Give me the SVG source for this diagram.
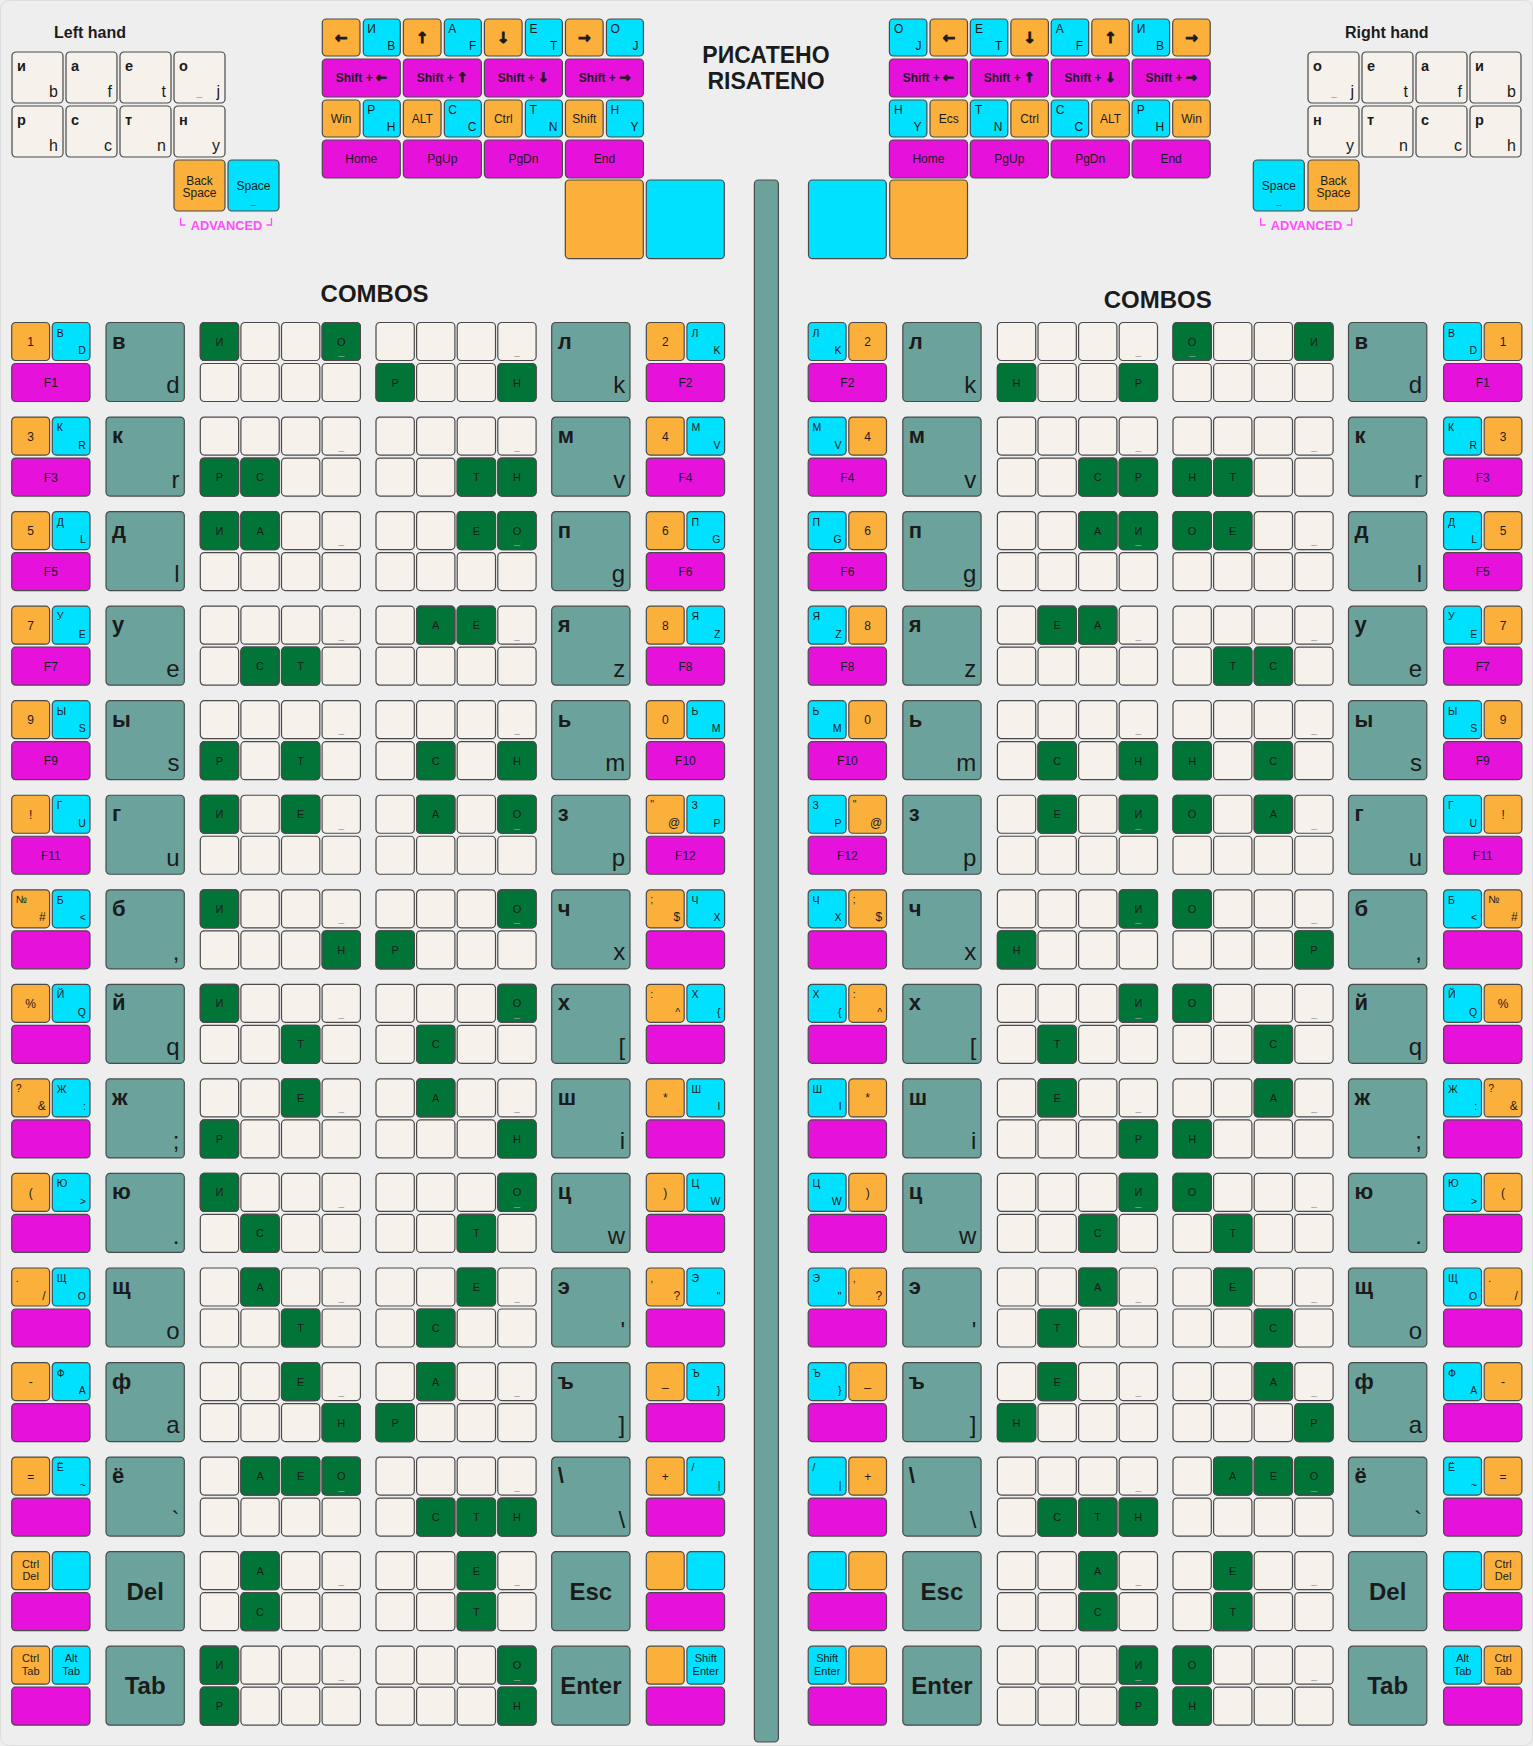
<svg xmlns="http://www.w3.org/2000/svg" width="1533" height="1746" viewBox="0 0 1533 1746">
<style>
text{font-family:'Liberation Sans',Arial,sans-serif;fill:#1b1b1b}
.k{stroke:#4a4a4a;stroke-width:1.2}
.or{fill:#fbb03b}.cy{fill:#00e1ff}.mg{fill:#e612dc}.tl{fill:#6ba39c}.gr{fill:#007537}.cr{fill:#f6f2eb}
.c{text-anchor:middle}.e{text-anchor:end}.b{font-weight:bold}
.s10{font-size:10.5px}.s11{font-size:11px}.s12{font-size:12px}
.tt{font-size:22px;font-weight:bold}
.tb{font-size:24px;text-anchor:end}
.tc{font-size:24px;font-weight:bold;text-anchor:middle}
.G text{font-size:11px;text-anchor:middle}
.us{font-size:10px;fill:#9a9a9a;text-anchor:middle}
.ar{font-family:'DejaVu Sans',sans-serif;font-weight:bold;stroke:#1b1b1b;stroke-width:0.9}
.an{font-size:15px;text-anchor:middle}
.hl{font-size:14.5px;font-weight:bold}
.hb{font-size:16px;text-anchor:end}
.adv{fill:#ff4dff;font-weight:bold;font-size:12.8px;text-anchor:middle}
.br{fill:none;stroke:#ff4dff;stroke-width:1.3}
.h1{font-size:16px;font-weight:bold;text-anchor:middle}
.ttl{font-size:23px;font-weight:bold;text-anchor:middle}
</style>
<defs>
<g id="grid">
<rect class="k cr" x="0" y="0" width="38.3" height="38" rx="4"/>
<rect class="k cr" x="40.6" y="0" width="38.3" height="38" rx="4"/>
<rect class="k cr" x="81.2" y="0" width="38.3" height="38" rx="4"/>
<rect class="k cr" x="121.8" y="0" width="38.3" height="38" rx="4"/>
<rect class="k cr" x="0" y="41" width="38.3" height="38" rx="4"/>
<rect class="k cr" x="40.6" y="41" width="38.3" height="38" rx="4"/>
<rect class="k cr" x="81.2" y="41" width="38.3" height="38" rx="4"/>
<rect class="k cr" x="121.8" y="41" width="38.3" height="38" rx="4"/>
<text class="us" x="140.95" y="32.5">_</text>
</g>
<rect id="gc" class="k gr" width="38.3" height="38" rx="4"/>
<g id="gL"><rect class="k or" width="37.9" height="38" rx="4"/><rect class="k cy" x="40.6" width="37.7" height="38" rx="4"/><rect class="k mg" y="41" width="78.3" height="38" rx="4"/></g>
<g id="gR"><rect class="k cy" width="37.9" height="38" rx="4"/><rect class="k or" x="40.6" width="37.7" height="38" rx="4"/><rect class="k mg" y="41" width="78.3" height="38" rx="4"/></g>
<rect id="tk" class="k tl" width="78.3" height="79" rx="4"/>
<g id="navL">
<rect class="k or" x="0" y="19" width="37.7" height="37" rx="4"/>
<rect class="k cy" x="41" y="19" width="37" height="37" rx="4"/>
<rect class="k mg" x="0" y="59" width="78" height="38" rx="4"/>
<rect class="k or" x="0" y="100" width="37.7" height="37" rx="4"/>
<rect class="k cy" x="41" y="100" width="37" height="37" rx="4"/>
<rect class="k mg" x="0" y="140" width="78" height="38" rx="4"/>
</g>
<g id="navR">
<rect class="k cy" x="0" y="19" width="37.5" height="37" rx="4"/>
<rect class="k or" x="40.6" y="19" width="37.5" height="37" rx="4"/>
<rect class="k mg" x="0" y="59" width="78.1" height="38" rx="4"/>
<rect class="k cy" x="0" y="100" width="37.5" height="37" rx="4"/>
<rect class="k or" x="40.6" y="100" width="37.5" height="37" rx="4"/>
<rect class="k mg" x="0" y="140" width="78.1" height="38" rx="4"/>
</g>
<rect id="hk" class="k cr" width="51" height="51" rx="4"/>
</defs>

<rect x="0" y="0" width="1533" height="1746" fill="#eeeeee"/>
<rect x="0.5" y="0.5" width="1532" height="1745" rx="8" fill="none" stroke="#dddddd"/>

<!-- Left hand -->
<g id="left-hand">
<text class="h1" x="90" y="37.5">Left hand</text>
<use href="#hk" x="12" y="52"/><text class="hl" x="17" y="71">и</text><text class="hb" x="58" y="97">b</text>
<use href="#hk" x="66" y="52"/><text class="hl" x="71" y="71">а</text><text class="hb" x="112" y="97">f</text>
<use href="#hk" x="120" y="52"/><text class="hl" x="125" y="71">е</text><text class="hb" x="166" y="97">t</text>
<use href="#hk" x="174" y="52"/><text class="hl" x="179" y="71">о</text><text class="hb" x="220" y="97">j</text><text class="us" x="199.5" y="95.5">_</text>
<use href="#hk" x="12" y="106"/><text class="hl" x="17" y="125">р</text><text class="hb" x="58" y="151">h</text>
<use href="#hk" x="66" y="106"/><text class="hl" x="71" y="125">с</text><text class="hb" x="112" y="151">c</text>
<use href="#hk" x="120" y="106"/><text class="hl" x="125" y="125">т</text><text class="hb" x="166" y="151">n</text>
<use href="#hk" x="174" y="106"/><text class="hl" x="179" y="125">н</text><text class="hb" x="220" y="151">y</text>
<rect class="k or" x="174" y="160" width="51" height="51" rx="4"/>
<text class="s12 c" x="199.5" y="184.5">Back</text><text class="s12 c" x="199.5" y="196.5">Space</text>
<rect class="k cy" x="228" y="160" width="51" height="51" rx="4"/>
<text class="s12 c" x="253.5" y="190">Space</text><text class="c" style="font-size:10px;fill:#3a6a6a" x="253.5" y="203.5">_</text>
<path class="br" d="M180.5 218V225H185.5M271.5 218V225H266.5"/>
<text class="adv" x="226.5" y="230">ADVANCED</text>
</g>

<!-- Right hand -->
<g id="right-hand">
<text class="h1" x="1386.7" y="37.5">Right hand</text>
<use href="#hk" x="1308" y="52"/><text class="hl" x="1313" y="71">о</text><text class="hb" x="1354" y="97">j</text><text class="us" x="1334" y="95.5">_</text>
<use href="#hk" x="1362" y="52"/><text class="hl" x="1367" y="71">е</text><text class="hb" x="1408" y="97">t</text>
<use href="#hk" x="1416" y="52"/><text class="hl" x="1421" y="71">а</text><text class="hb" x="1462" y="97">f</text>
<use href="#hk" x="1470" y="52"/><text class="hl" x="1475" y="71">и</text><text class="hb" x="1516" y="97">b</text>
<use href="#hk" x="1308" y="106"/><text class="hl" x="1313" y="125">н</text><text class="hb" x="1354" y="151">y</text>
<use href="#hk" x="1362" y="106"/><text class="hl" x="1367" y="125">т</text><text class="hb" x="1408" y="151">n</text>
<use href="#hk" x="1416" y="106"/><text class="hl" x="1421" y="125">с</text><text class="hb" x="1462" y="151">c</text>
<use href="#hk" x="1470" y="106"/><text class="hl" x="1475" y="125">р</text><text class="hb" x="1516" y="151">h</text>
<rect class="k cy" x="1253.3" y="160" width="51" height="51" rx="4"/>
<text class="s12 c" x="1278.8" y="190">Space</text><text class="c" style="font-size:10px;fill:#3a6a6a" x="1278.8" y="203.5">_</text>
<rect class="k or" x="1308" y="160" width="51" height="51" rx="4"/>
<text class="s12 c" x="1333.5" y="184.5">Back</text><text class="s12 c" x="1333.5" y="196.5">Space</text>
<path class="br" d="M1260.7 218V225H1265.7M1351.7 218V225H1346.7"/>
<text class="adv" x="1306.5" y="230">ADVANCED</text>
</g>

<!-- Title -->
<g id="title">
<text class="ttl" x="766" y="62.5">РИСАТЕНО</text>
<text class="ttl" x="766" y="88.5">RISATENO</text>
</g>

<!-- Left nav -->
<g id="nav-left">
<use href="#navL" x="322.3"/><use href="#navL" x="403.35"/><use href="#navL" x="484.4"/><use href="#navL" x="565.45"/>
<text class="ar an" x="341.15" y="42.5">←</text>
<text class="ar an" x="422.2" y="43">↑</text>
<text class="ar an" x="503.25" y="43">↓</text>
<text class="ar an" x="584.3" y="42.5">→</text>
<text class="s12" x="367.3" y="33">И</text><text class="s12 e" x="395.3" y="50">B</text>
<text class="s12" x="448.35" y="33">А</text><text class="s12 e" x="476.35" y="50">F</text>
<text class="s12" x="529.4" y="33">Е</text><text class="s12 e" x="557.4" y="50">T</text>
<text class="s12" x="610.45" y="33">О</text><text class="s12 e" x="638.45" y="50">J</text>
<text class="s12 b c" x="361.3" y="82">Shift + <tspan class="ar" style="font-size:13px">←</tspan></text>
<text class="s12 b c" x="442.35" y="82">Shift + <tspan class="ar" style="font-size:13px">↑</tspan></text>
<text class="s12 b c" x="523.4" y="82">Shift + <tspan class="ar" style="font-size:13px">↓</tspan></text>
<text class="s12 b c" x="604.45" y="82">Shift + <tspan class="ar" style="font-size:13px">→</tspan></text>
<text class="s12 c" x="341.15" y="122.5">Win</text>
<text class="s12 c" x="422.2" y="122.5">ALT</text>
<text class="s12 c" x="503.25" y="122.5">Ctrl</text>
<text class="s12 c" x="584.3" y="122.5">Shift</text>
<text class="s12" x="367.3" y="113.5">Р</text><text class="s12 e" x="395.3" y="131">H</text>
<text class="s12" x="448.35" y="113.5">С</text><text class="s12 e" x="476.35" y="131">C</text>
<text class="s12" x="529.4" y="113.5">Т</text><text class="s12 e" x="557.4" y="131">N</text>
<text class="s12" x="610.45" y="113.5">Н</text><text class="s12 e" x="638.45" y="131">Y</text>
<text class="s12 c" x="361.3" y="162.5">Home</text>
<text class="s12 c" x="442.35" y="162.5">PgUp</text>
<text class="s12 c" x="523.4" y="162.5">PgDn</text>
<text class="s12 c" x="604.45" y="162.5">End</text>
<rect class="k or" x="565.3" y="180" width="78" height="78.7" rx="4"/>
<rect class="k cy" x="646.3" y="180" width="78" height="78.7" rx="4"/>
</g>

<!-- Right nav -->
<g id="nav-right">
<use href="#navR" x="889.4"/><use href="#navR" x="970.3"/><use href="#navR" x="1051.2"/><use href="#navR" x="1132.1"/>
<text class="s12" x="894" y="33">О</text><text class="s12 e" x="921.4" y="50">J</text>
<text class="s12" x="974.9" y="33">Е</text><text class="s12 e" x="1002.3" y="50">T</text>
<text class="s12" x="1055.8" y="33">А</text><text class="s12 e" x="1083.2" y="50">F</text>
<text class="s12" x="1136.7" y="33">И</text><text class="s12 e" x="1164.1" y="50">B</text>
<text class="ar an" x="948.8" y="42.5">←</text>
<text class="ar an" x="1029.7" y="43">↓</text>
<text class="ar an" x="1110.6" y="43">↑</text>
<text class="ar an" x="1191.5" y="42.5">→</text>
<text class="s12 b c" x="928.4" y="82">Shift + <tspan class="ar" style="font-size:13px">←</tspan></text>
<text class="s12 b c" x="1009.3" y="82">Shift + <tspan class="ar" style="font-size:13px">↑</tspan></text>
<text class="s12 b c" x="1090.2" y="82">Shift + <tspan class="ar" style="font-size:13px">↓</tspan></text>
<text class="s12 b c" x="1171.1" y="82">Shift + <tspan class="ar" style="font-size:13px">→</tspan></text>
<text class="s12" x="894" y="113.5">Н</text><text class="s12 e" x="921.4" y="131">Y</text>
<text class="s12" x="974.9" y="113.5">Т</text><text class="s12 e" x="1002.3" y="131">N</text>
<text class="s12" x="1055.8" y="113.5">С</text><text class="s12 e" x="1083.2" y="131">C</text>
<text class="s12" x="1136.7" y="113.5">Р</text><text class="s12 e" x="1164.1" y="131">H</text>
<text class="s12 c" x="948.8" y="122.5">Ecs</text>
<text class="s12 c" x="1029.7" y="122.5">Ctrl</text>
<text class="s12 c" x="1110.6" y="122.5">ALT</text>
<text class="s12 c" x="1191.5" y="122.5">Win</text>
<text class="s12 c" x="928.4" y="162.5">Home</text>
<text class="s12 c" x="1009.3" y="162.5">PgUp</text>
<text class="s12 c" x="1090.2" y="162.5">PgDn</text>
<text class="s12 c" x="1171.1" y="162.5">End</text>
<rect class="k cy" x="808.5" y="180" width="77.8" height="78.7" rx="4"/>
<rect class="k or" x="889.7" y="180" width="77.8" height="78.7" rx="4"/>
</g>

<rect id="divider" class="k tl" x="754.4" y="180" width="24" height="1562" rx="4"/>

<text class="tc" x="374.6" y="302">COMBOS</text>
<text class="tc" x="1157.7" y="308">COMBOS</text>

<!-- ============ LEFT COMBOS ============ -->
<g id="combo-L1" transform="translate(0,322.5)">
<use href="#gL" x="11.7"/><text class="s12 c" x="30.65" y="23.5">1</text><text class="s10" x="56.8" y="14">В</text><text class="s10 e" x="85.8" y="31.5">D</text><text class="s12 c" x="50.85" y="64.5">F1</text>
<use href="#tk" x="106"/><text class="tt" x="112" y="26">в</text><text class="tb" x="179.5" y="70.5">d</text>
<g class="G" transform="translate(200.3,0)"><use href="#grid"/><use href="#gc"/><text x="19.15" y="23">И</text><use href="#gc" x="121.8"/><text x="140.95" y="23">О</text><text class="us" x="140.95" y="32.5">_</text></g>
<g class="G" transform="translate(376,0)"><use href="#grid"/><use href="#gc" y="41"/><text x="19.15" y="64">Р</text><use href="#gc" x="121.8" y="41"/><text x="140.95" y="64">Н</text></g>
<use href="#tk" x="551.7"/><text class="tt" x="557.7" y="26">л</text><text class="tb" x="625.2" y="70.5">k</text>
<use href="#gL" x="646.3"/><text class="s12 c" x="665.25" y="23.5">2</text><text class="s10" x="691.4" y="14">Л</text><text class="s10 e" x="720.4" y="31.5">K</text><text class="s12 c" x="685.45" y="64.5">F2</text>
</g>

<g id="combo-L2" transform="translate(0,417.05)">
<use href="#gL" x="11.7"/><text class="s12 c" x="30.65" y="23.5">3</text><text class="s10" x="56.8" y="14">К</text><text class="s10 e" x="85.8" y="31.5">R</text><text class="s12 c" x="50.85" y="64.5">F3</text>
<use href="#tk" x="106"/><text class="tt" x="112" y="26">к</text><text class="tb" x="179.5" y="70.5">r</text>
<g class="G" transform="translate(200.3,0)"><use href="#grid"/><use href="#gc" y="41"/><text x="19.15" y="64">Р</text><use href="#gc" x="40.6" y="41"/><text x="59.75" y="64">С</text></g>
<g class="G" transform="translate(376,0)"><use href="#grid"/><use href="#gc" x="81.2" y="41"/><text x="100.35" y="64">Т</text><use href="#gc" x="121.8" y="41"/><text x="140.95" y="64">Н</text></g>
<use href="#tk" x="551.7"/><text class="tt" x="557.7" y="26">м</text><text class="tb" x="625.2" y="70.5">v</text>
<use href="#gL" x="646.3"/><text class="s12 c" x="665.25" y="23.5">4</text><text class="s10" x="691.4" y="14">М</text><text class="s10 e" x="720.4" y="31.5">V</text><text class="s12 c" x="685.45" y="64.5">F4</text>
</g>

<g id="combo-L3" transform="translate(0,511.6)">
<use href="#gL" x="11.7"/><text class="s12 c" x="30.65" y="23.5">5</text><text class="s10" x="56.8" y="14">Д</text><text class="s10 e" x="85.8" y="31.5">L</text><text class="s12 c" x="50.85" y="64.5">F5</text>
<use href="#tk" x="106"/><text class="tt" x="112" y="26">д</text><text class="tb" x="179.5" y="70.5">l</text>
<g class="G" transform="translate(200.3,0)"><use href="#grid"/><use href="#gc"/><text x="19.15" y="23">И</text><use href="#gc" x="40.6"/><text x="59.75" y="23">А</text></g>
<g class="G" transform="translate(376,0)"><use href="#grid"/><use href="#gc" x="81.2"/><text x="100.35" y="23">Е</text><use href="#gc" x="121.8"/><text x="140.95" y="23">О</text><text class="us" x="140.95" y="32.5">_</text></g>
<use href="#tk" x="551.7"/><text class="tt" x="557.7" y="26">п</text><text class="tb" x="625.2" y="70.5">g</text>
<use href="#gL" x="646.3"/><text class="s12 c" x="665.25" y="23.5">6</text><text class="s10" x="691.4" y="14">П</text><text class="s10 e" x="720.4" y="31.5">G</text><text class="s12 c" x="685.45" y="64.5">F6</text>
</g>

<g id="combo-L4" transform="translate(0,606.15)">
<use href="#gL" x="11.7"/><text class="s12 c" x="30.65" y="23.5">7</text><text class="s10" x="56.8" y="14">У</text><text class="s10 e" x="85.8" y="31.5">E</text><text class="s12 c" x="50.85" y="64.5">F7</text>
<use href="#tk" x="106"/><text class="tt" x="112" y="26">у</text><text class="tb" x="179.5" y="70.5">e</text>
<g class="G" transform="translate(200.3,0)"><use href="#grid"/><use href="#gc" x="40.6" y="41"/><text x="59.75" y="64">С</text><use href="#gc" x="81.2" y="41"/><text x="100.35" y="64">Т</text></g>
<g class="G" transform="translate(376,0)"><use href="#grid"/><use href="#gc" x="40.6"/><text x="59.75" y="23">А</text><use href="#gc" x="81.2"/><text x="100.35" y="23">Е</text></g>
<use href="#tk" x="551.7"/><text class="tt" x="557.7" y="26">я</text><text class="tb" x="625.2" y="70.5">z</text>
<use href="#gL" x="646.3"/><text class="s12 c" x="665.25" y="23.5">8</text><text class="s10" x="691.4" y="14">Я</text><text class="s10 e" x="720.4" y="31.5">Z</text><text class="s12 c" x="685.45" y="64.5">F8</text>
</g>

<g id="combo-L5" transform="translate(0,700.7)">
<use href="#gL" x="11.7"/><text class="s12 c" x="30.65" y="23.5">9</text><text class="s10" x="56.8" y="14">Ы</text><text class="s10 e" x="85.8" y="31.5">S</text><text class="s12 c" x="50.85" y="64.5">F9</text>
<use href="#tk" x="106"/><text class="tt" x="112" y="26">ы</text><text class="tb" x="179.5" y="70.5">s</text>
<g class="G" transform="translate(200.3,0)"><use href="#grid"/><use href="#gc" y="41"/><text x="19.15" y="64">Р</text><use href="#gc" x="81.2" y="41"/><text x="100.35" y="64">Т</text></g>
<g class="G" transform="translate(376,0)"><use href="#grid"/><use href="#gc" x="40.6" y="41"/><text x="59.75" y="64">С</text><use href="#gc" x="121.8" y="41"/><text x="140.95" y="64">Н</text></g>
<use href="#tk" x="551.7"/><text class="tt" x="557.7" y="26">ь</text><text class="tb" x="625.2" y="70.5">m</text>
<use href="#gL" x="646.3"/><text class="s12 c" x="665.25" y="23.5">0</text><text class="s10" x="691.4" y="14">Ь</text><text class="s10 e" x="720.4" y="31.5">M</text><text class="s12 c" x="685.45" y="64.5">F10</text>
</g>

<g id="combo-L6" transform="translate(0,795.25)">
<use href="#gL" x="11.7"/><text class="s12 c" x="30.65" y="23.5">!</text><text class="s10" x="56.8" y="14">Г</text><text class="s10 e" x="85.8" y="31.5">U</text><text class="s12 c" x="50.85" y="64.5">F11</text>
<use href="#tk" x="106"/><text class="tt" x="112" y="26">г</text><text class="tb" x="179.5" y="70.5">u</text>
<g class="G" transform="translate(200.3,0)"><use href="#grid"/><use href="#gc"/><text x="19.15" y="23">И</text><use href="#gc" x="81.2"/><text x="100.35" y="23">Е</text></g>
<g class="G" transform="translate(376,0)"><use href="#grid"/><use href="#gc" x="40.6"/><text x="59.75" y="23">А</text><use href="#gc" x="121.8"/><text x="140.95" y="23">О</text><text class="us" x="140.95" y="32.5">_</text></g>
<use href="#tk" x="551.7"/><text class="tt" x="557.7" y="26">з</text><text class="tb" x="625.2" y="70.5">p</text>
<use href="#gL" x="646.3"/><text class="s10" x="650.3" y="13">"</text><text class="s12 e" x="680.3" y="32">@</text><text class="s10" x="691.4" y="14">З</text><text class="s10 e" x="720.4" y="31.5">P</text><text class="s12 c" x="685.45" y="64.5">F12</text>
</g>

<g id="combo-L7" transform="translate(0,889.8)">
<use href="#gL" x="11.7"/><text class="s10" x="15.7" y="13.5">№</text><text class="s12 e" x="45.7" y="31.5">#</text><text class="s10" x="56.8" y="14">Б</text><text class="s10 e" x="85.8" y="31.5">&lt;</text>
<use href="#tk" x="106"/><text class="tt" x="112" y="26">б</text><text class="tb" x="179.5" y="70.5">,</text>
<g class="G" transform="translate(200.3,0)"><use href="#grid"/><use href="#gc"/><text x="19.15" y="23">И</text><use href="#gc" x="121.8" y="41"/><text x="140.95" y="64">Н</text></g>
<g class="G" transform="translate(376,0)"><use href="#grid"/><use href="#gc" x="121.8"/><text x="140.95" y="23">О</text><text class="us" x="140.95" y="32.5">_</text><use href="#gc" y="41"/><text x="19.15" y="64">Р</text></g>
<use href="#tk" x="551.7"/><text class="tt" x="557.7" y="26">ч</text><text class="tb" x="625.2" y="70.5">x</text>
<use href="#gL" x="646.3"/><text class="s10" x="650.3" y="13.5">;</text><text class="s12 e" x="680.3" y="31.5">$</text><text class="s10" x="691.4" y="14">Ч</text><text class="s10 e" x="720.4" y="31.5">X</text>
</g>

<g id="combo-L8" transform="translate(0,984.35)">
<use href="#gL" x="11.7"/><text class="s12 c" x="30.65" y="23.5">%</text><text class="s10" x="56.8" y="14">Й</text><text class="s10 e" x="85.8" y="31.5">Q</text>
<use href="#tk" x="106"/><text class="tt" x="112" y="26">й</text><text class="tb" x="179.5" y="70.5">q</text>
<g class="G" transform="translate(200.3,0)"><use href="#grid"/><use href="#gc"/><text x="19.15" y="23">И</text><use href="#gc" x="81.2" y="41"/><text x="100.35" y="64">Т</text></g>
<g class="G" transform="translate(376,0)"><use href="#grid"/><use href="#gc" x="121.8"/><text x="140.95" y="23">О</text><text class="us" x="140.95" y="32.5">_</text><use href="#gc" x="40.6" y="41"/><text x="59.75" y="64">С</text></g>
<use href="#tk" x="551.7"/><text class="tt" x="557.7" y="26">х</text><text class="tb" x="625.2" y="70.5">[</text>
<use href="#gL" x="646.3"/><text class="s10" x="650.3" y="13.5">:</text><text class="s10 e" x="680.3" y="31.5">^</text><text class="s10" x="691.4" y="14">Х</text><text class="s10 e" x="720.4" y="31.5">{</text>
</g>

<g id="combo-L9" transform="translate(0,1078.9)">
<use href="#gL" x="11.7"/><text class="s10" x="15.7" y="13.5">?</text><text class="s12 e" x="45.7" y="31.5">&amp;</text><text class="s10" x="56.8" y="14">Ж</text><text class="s10 e" x="85.8" y="31.5">:</text>
<use href="#tk" x="106"/><text class="tt" x="112" y="26">ж</text><text class="tb" x="179.5" y="70.5">;</text>
<g class="G" transform="translate(200.3,0)"><use href="#grid"/><use href="#gc" x="81.2"/><text x="100.35" y="23">Е</text><use href="#gc" y="41"/><text x="19.15" y="64">Р</text></g>
<g class="G" transform="translate(376,0)"><use href="#grid"/><use href="#gc" x="40.6"/><text x="59.75" y="23">А</text><use href="#gc" x="121.8" y="41"/><text x="140.95" y="64">Н</text></g>
<use href="#tk" x="551.7"/><text class="tt" x="557.7" y="26">ш</text><text class="tb" x="625.2" y="70.5">i</text>
<use href="#gL" x="646.3"/><text class="s12 c" x="665.25" y="23.5">*</text><text class="s10" x="691.4" y="14">Ш</text><text class="s10 e" x="720.4" y="31.5">I</text>
</g>

<g id="combo-L10" transform="translate(0,1173.45)">
<use href="#gL" x="11.7"/><text class="s12 c" x="30.65" y="23.5">(</text><text class="s10" x="56.8" y="14">Ю</text><text class="s10 e" x="85.8" y="31.5">&gt;</text>
<use href="#tk" x="106"/><text class="tt" x="112" y="26">ю</text><text class="tb" x="179.5" y="70.5">.</text>
<g class="G" transform="translate(200.3,0)"><use href="#grid"/><use href="#gc"/><text x="19.15" y="23">И</text><use href="#gc" x="40.6" y="41"/><text x="59.75" y="64">С</text></g>
<g class="G" transform="translate(376,0)"><use href="#grid"/><use href="#gc" x="121.8"/><text x="140.95" y="23">О</text><text class="us" x="140.95" y="32.5">_</text><use href="#gc" x="81.2" y="41"/><text x="100.35" y="64">Т</text></g>
<use href="#tk" x="551.7"/><text class="tt" x="557.7" y="26">ц</text><text class="tb" x="625.2" y="70.5">w</text>
<use href="#gL" x="646.3"/><text class="s12 c" x="665.25" y="23.5">)</text><text class="s10" x="691.4" y="14">Ц</text><text class="s10 e" x="720.4" y="31.5">W</text>
</g>

<g id="combo-L11" transform="translate(0,1268)">
<use href="#gL" x="11.7"/><text class="s10" x="15.7" y="13.5">.</text><text class="s12 e" x="45.7" y="31.5">/</text><text class="s10" x="56.8" y="14">Щ</text><text class="s10 e" x="85.8" y="31.5">O</text>
<use href="#tk" x="106"/><text class="tt" x="112" y="26">щ</text><text class="tb" x="179.5" y="70.5">o</text>
<g class="G" transform="translate(200.3,0)"><use href="#grid"/><use href="#gc" x="40.6"/><text x="59.75" y="23">А</text><use href="#gc" x="81.2" y="41"/><text x="100.35" y="64">Т</text></g>
<g class="G" transform="translate(376,0)"><use href="#grid"/><use href="#gc" x="81.2"/><text x="100.35" y="23">Е</text><use href="#gc" x="40.6" y="41"/><text x="59.75" y="64">С</text></g>
<use href="#tk" x="551.7"/><text class="tt" x="557.7" y="26">э</text><text class="tb" x="625.2" y="70.5">'</text>
<use href="#gL" x="646.3"/><text class="s10" x="650.3" y="13.5">,</text><text class="s12 e" x="680.3" y="31.5">?</text><text class="s10" x="691.4" y="14">Э</text><text class="s10 e" x="720.4" y="31.5">"</text>
</g>

<g id="combo-L12" transform="translate(0,1362.55)">
<use href="#gL" x="11.7"/><text class="s12 c" x="30.65" y="23.5">-</text><text class="s10" x="56.8" y="14">Ф</text><text class="s10 e" x="85.8" y="31.5">A</text>
<use href="#tk" x="106"/><text class="tt" x="112" y="26">ф</text><text class="tb" x="179.5" y="70.5">a</text>
<g class="G" transform="translate(200.3,0)"><use href="#grid"/><use href="#gc" x="81.2"/><text x="100.35" y="23">Е</text><use href="#gc" x="121.8" y="41"/><text x="140.95" y="64">Н</text></g>
<g class="G" transform="translate(376,0)"><use href="#grid"/><use href="#gc" x="40.6"/><text x="59.75" y="23">А</text><use href="#gc" y="41"/><text x="19.15" y="64">Р</text></g>
<use href="#tk" x="551.7"/><text class="tt" x="557.7" y="26">ъ</text><text class="tb" x="625.2" y="70.5">]</text>
<use href="#gL" x="646.3"/><text class="s12 c" x="665.25" y="23.5">_</text><text class="s10" x="691.4" y="14">Ъ</text><text class="s10 e" x="720.4" y="31.5">}</text>
</g>

<g id="combo-L13" transform="translate(0,1457.1)">
<use href="#gL" x="11.7"/><text class="s12 c" x="30.65" y="23.5">=</text><text class="s10" x="56.8" y="14">Ё</text><text class="s10 e" x="85.8" y="31.5">~</text>
<use href="#tk" x="106"/><text class="tt" x="112" y="26">ё</text><text class="tb" x="179.5" y="70.5">`</text>
<g class="G" transform="translate(200.3,0)"><use href="#grid"/><use href="#gc" x="40.6"/><text x="59.75" y="23">А</text><use href="#gc" x="81.2"/><text x="100.35" y="23">Е</text><use href="#gc" x="121.8"/><text x="140.95" y="23">О</text><text class="us" x="140.95" y="32.5">_</text></g>
<g class="G" transform="translate(376,0)"><use href="#grid"/><use href="#gc" x="40.6" y="41"/><text x="59.75" y="64">С</text><use href="#gc" x="81.2" y="41"/><text x="100.35" y="64">Т</text><use href="#gc" x="121.8" y="41"/><text x="140.95" y="64">Н</text></g>
<use href="#tk" x="551.7"/><text class="tt" x="557.7" y="26">\</text><text class="tb" x="625.2" y="70.5">\</text>
<use href="#gL" x="646.3"/><text class="s12 c" x="665.25" y="23.5">+</text><text class="s10" x="691.4" y="14">/</text><text class="s10 e" x="720.4" y="31.5">|</text>
</g>

<g id="combo-L14" transform="translate(0,1551.65)">
<use href="#gL" x="11.7"/><text class="s11 c" x="30.65" y="16">Ctrl</text><text class="s11 c" x="30.65" y="28.5">Del</text>
<use href="#tk" x="106"/><text class="tc" x="145.15" y="48">Del</text>
<g class="G" transform="translate(200.3,0)"><use href="#grid"/><use href="#gc" x="40.6"/><text x="59.75" y="23">А</text><use href="#gc" x="40.6" y="41"/><text x="59.75" y="64">С</text></g>
<g class="G" transform="translate(376,0)"><use href="#grid"/><use href="#gc" x="81.2"/><text x="100.35" y="23">Е</text><use href="#gc" x="81.2" y="41"/><text x="100.35" y="64">Т</text></g>
<use href="#tk" x="551.7"/><text class="tc" x="590.85" y="48">Esc</text>
<use href="#gL" x="646.3"/>
</g>

<g id="combo-L15" transform="translate(0,1646.2)">
<use href="#gL" x="11.7"/><text class="s11 c" x="30.65" y="16">Ctrl</text><text class="s11 c" x="30.65" y="28.5">Tab</text><text class="s11 c" x="71.15" y="16">Alt</text><text class="s11 c" x="71.15" y="28.5">Tab</text>
<use href="#tk" x="106"/><text class="tc" x="145.15" y="48">Tab</text>
<g class="G" transform="translate(200.3,0)"><use href="#grid"/><use href="#gc"/><text x="19.15" y="23">И</text><use href="#gc" y="41"/><text x="19.15" y="64">Р</text></g>
<g class="G" transform="translate(376,0)"><use href="#grid"/><use href="#gc" x="121.8"/><text x="140.95" y="23">О</text><text class="us" x="140.95" y="32.5">_</text><use href="#gc" x="121.8" y="41"/><text x="140.95" y="64">Н</text></g>
<use href="#tk" x="551.7"/><text class="tc" x="590.85" y="48">Enter</text>
<use href="#gL" x="646.3"/><text class="s11 c" x="705.75" y="16">Shift</text><text class="s11 c" x="705.75" y="28.5">Enter</text>
</g>

<!-- ============ RIGHT COMBOS ============ -->
<g id="combo-R1" transform="translate(0,322.5)">
<use href="#gR" x="808.2"/><text class="s10" x="812.5" y="14">Л</text><text class="s10 e" x="841.6" y="31.5">K</text><text class="s12 c" x="867.7" y="23.5">2</text><text class="s12 c" x="847.35" y="64.5">F2</text>
<use href="#tk" x="902.8"/><text class="tt" x="908.8" y="26">л</text><text class="tb" x="976.3" y="70.5">k</text>
<g class="G" transform="translate(997.4,0)"><use href="#grid"/><use href="#gc" y="41"/><text x="19.15" y="64">Н</text><use href="#gc" x="121.8" y="41"/><text x="140.95" y="64">Р</text></g>
<g class="G" transform="translate(1173,0)"><use href="#grid"/><use href="#gc"/><text x="19.15" y="23">О</text><text class="us" x="19.15" y="32.5">_</text><use href="#gc" x="121.8"/><text x="140.95" y="23">И</text></g>
<use href="#tk" x="1348.5"/><text class="tt" x="1354.5" y="26">в</text><text class="tb" x="1422" y="70.5">d</text>
<use href="#gR" x="1443.6"/><text class="s10" x="1448.1" y="14">В</text><text class="s10 e" x="1477.2" y="31.5">D</text><text class="s12 c" x="1503.1" y="23.5">1</text><text class="s12 c" x="1482.75" y="64.5">F1</text>
</g>

<g id="combo-R2" transform="translate(0,417.05)">
<use href="#gR" x="808.2"/><text class="s10" x="812.5" y="14">М</text><text class="s10 e" x="841.6" y="31.5">V</text><text class="s12 c" x="867.7" y="23.5">4</text><text class="s12 c" x="847.35" y="64.5">F4</text>
<use href="#tk" x="902.8"/><text class="tt" x="908.8" y="26">м</text><text class="tb" x="976.3" y="70.5">v</text>
<g class="G" transform="translate(997.4,0)"><use href="#grid"/><use href="#gc" x="81.2" y="41"/><text x="100.35" y="64">С</text><use href="#gc" x="121.8" y="41"/><text x="140.95" y="64">Р</text></g>
<g class="G" transform="translate(1173,0)"><use href="#grid"/><use href="#gc" y="41"/><text x="19.15" y="64">Н</text><use href="#gc" x="40.6" y="41"/><text x="59.75" y="64">Т</text></g>
<use href="#tk" x="1348.5"/><text class="tt" x="1354.5" y="26">к</text><text class="tb" x="1422" y="70.5">r</text>
<use href="#gR" x="1443.6"/><text class="s10" x="1448.1" y="14">К</text><text class="s10 e" x="1477.2" y="31.5">R</text><text class="s12 c" x="1503.1" y="23.5">3</text><text class="s12 c" x="1482.75" y="64.5">F3</text>
</g>

<g id="combo-R3" transform="translate(0,511.6)">
<use href="#gR" x="808.2"/><text class="s10" x="812.5" y="14">П</text><text class="s10 e" x="841.6" y="31.5">G</text><text class="s12 c" x="867.7" y="23.5">6</text><text class="s12 c" x="847.35" y="64.5">F6</text>
<use href="#tk" x="902.8"/><text class="tt" x="908.8" y="26">п</text><text class="tb" x="976.3" y="70.5">g</text>
<g class="G" transform="translate(997.4,0)"><use href="#grid"/><use href="#gc" x="81.2"/><text x="100.35" y="23">А</text><use href="#gc" x="121.8"/><text x="140.95" y="23">И</text><text class="us" x="140.95" y="32.5">_</text></g>
<g class="G" transform="translate(1173,0)"><use href="#grid"/><use href="#gc"/><text x="19.15" y="23">О</text><use href="#gc" x="40.6"/><text x="59.75" y="23">Е</text></g>
<use href="#tk" x="1348.5"/><text class="tt" x="1354.5" y="26">д</text><text class="tb" x="1422" y="70.5">l</text>
<use href="#gR" x="1443.6"/><text class="s10" x="1448.1" y="14">Д</text><text class="s10 e" x="1477.2" y="31.5">L</text><text class="s12 c" x="1503.1" y="23.5">5</text><text class="s12 c" x="1482.75" y="64.5">F5</text>
</g>

<g id="combo-R4" transform="translate(0,606.15)">
<use href="#gR" x="808.2"/><text class="s10" x="812.5" y="14">Я</text><text class="s10 e" x="841.6" y="31.5">Z</text><text class="s12 c" x="867.7" y="23.5">8</text><text class="s12 c" x="847.35" y="64.5">F8</text>
<use href="#tk" x="902.8"/><text class="tt" x="908.8" y="26">я</text><text class="tb" x="976.3" y="70.5">z</text>
<g class="G" transform="translate(997.4,0)"><use href="#grid"/><use href="#gc" x="40.6"/><text x="59.75" y="23">Е</text><use href="#gc" x="81.2"/><text x="100.35" y="23">А</text></g>
<g class="G" transform="translate(1173,0)"><use href="#grid"/><use href="#gc" x="40.6" y="41"/><text x="59.75" y="64">Т</text><use href="#gc" x="81.2" y="41"/><text x="100.35" y="64">С</text></g>
<use href="#tk" x="1348.5"/><text class="tt" x="1354.5" y="26">у</text><text class="tb" x="1422" y="70.5">e</text>
<use href="#gR" x="1443.6"/><text class="s10" x="1448.1" y="14">У</text><text class="s10 e" x="1477.2" y="31.5">E</text><text class="s12 c" x="1503.1" y="23.5">7</text><text class="s12 c" x="1482.75" y="64.5">F7</text>
</g>

<g id="combo-R5" transform="translate(0,700.7)">
<use href="#gR" x="808.2"/><text class="s10" x="812.5" y="14">Ь</text><text class="s10 e" x="841.6" y="31.5">M</text><text class="s12 c" x="867.7" y="23.5">0</text><text class="s12 c" x="847.35" y="64.5">F10</text>
<use href="#tk" x="902.8"/><text class="tt" x="908.8" y="26">ь</text><text class="tb" x="976.3" y="70.5">m</text>
<g class="G" transform="translate(997.4,0)"><use href="#grid"/><use href="#gc" x="40.6" y="41"/><text x="59.75" y="64">С</text><use href="#gc" x="121.8" y="41"/><text x="140.95" y="64">Н</text></g>
<g class="G" transform="translate(1173,0)"><use href="#grid"/><use href="#gc" y="41"/><text x="19.15" y="64">Н</text><use href="#gc" x="81.2" y="41"/><text x="100.35" y="64">С</text></g>
<use href="#tk" x="1348.5"/><text class="tt" x="1354.5" y="26">ы</text><text class="tb" x="1422" y="70.5">s</text>
<use href="#gR" x="1443.6"/><text class="s10" x="1448.1" y="14">Ы</text><text class="s10 e" x="1477.2" y="31.5">S</text><text class="s12 c" x="1503.1" y="23.5">9</text><text class="s12 c" x="1482.75" y="64.5">F9</text>
</g>

<g id="combo-R6" transform="translate(0,795.25)">
<use href="#gR" x="808.2"/><text class="s10" x="812.5" y="14">З</text><text class="s10 e" x="841.6" y="31.5">P</text><text class="s10" x="852.8" y="13">"</text><text class="s12 e" x="882.3" y="32">@</text><text class="s12 c" x="847.35" y="64.5">F12</text>
<use href="#tk" x="902.8"/><text class="tt" x="908.8" y="26">з</text><text class="tb" x="976.3" y="70.5">p</text>
<g class="G" transform="translate(997.4,0)"><use href="#grid"/><use href="#gc" x="40.6"/><text x="59.75" y="23">Е</text><use href="#gc" x="121.8"/><text x="140.95" y="23">И</text><text class="us" x="140.95" y="32.5">_</text></g>
<g class="G" transform="translate(1173,0)"><use href="#grid"/><use href="#gc"/><text x="19.15" y="23">О</text><use href="#gc" x="81.2"/><text x="100.35" y="23">А</text></g>
<use href="#tk" x="1348.5"/><text class="tt" x="1354.5" y="26">г</text><text class="tb" x="1422" y="70.5">u</text>
<use href="#gR" x="1443.6"/><text class="s10" x="1448.1" y="14">Г</text><text class="s10 e" x="1477.2" y="31.5">U</text><text class="s12 c" x="1503.1" y="23.5">!</text><text class="s12 c" x="1482.75" y="64.5">F11</text>
</g>

<g id="combo-R7" transform="translate(0,889.8)">
<use href="#gR" x="808.2"/><text class="s10" x="812.5" y="14">Ч</text><text class="s10 e" x="841.6" y="31.5">X</text><text class="s10" x="852.8" y="13.5">;</text><text class="s12 e" x="882.3" y="31.5">$</text>
<use href="#tk" x="902.8"/><text class="tt" x="908.8" y="26">ч</text><text class="tb" x="976.3" y="70.5">x</text>
<g class="G" transform="translate(997.4,0)"><use href="#grid"/><use href="#gc" x="121.8"/><text x="140.95" y="23">И</text><text class="us" x="140.95" y="32.5">_</text><use href="#gc" y="41"/><text x="19.15" y="64">Н</text></g>
<g class="G" transform="translate(1173,0)"><use href="#grid"/><use href="#gc"/><text x="19.15" y="23">О</text><use href="#gc" x="121.8" y="41"/><text x="140.95" y="64">Р</text></g>
<use href="#tk" x="1348.5"/><text class="tt" x="1354.5" y="26">б</text><text class="tb" x="1422" y="70.5">,</text>
<use href="#gR" x="1443.6"/><text class="s10" x="1448.1" y="14">Б</text><text class="s10 e" x="1477.2" y="31.5">&lt;</text><text class="s10" x="1488.2" y="13.5">№</text><text class="s12 e" x="1517.8" y="31.5">#</text>
</g>

<g id="combo-R8" transform="translate(0,984.35)">
<use href="#gR" x="808.2"/><text class="s10" x="812.5" y="14">Х</text><text class="s10 e" x="841.6" y="31.5">{</text><text class="s10" x="852.8" y="13.5">:</text><text class="s10 e" x="882.3" y="31.5">^</text>
<use href="#tk" x="902.8"/><text class="tt" x="908.8" y="26">х</text><text class="tb" x="976.3" y="70.5">[</text>
<g class="G" transform="translate(997.4,0)"><use href="#grid"/><use href="#gc" x="121.8"/><text x="140.95" y="23">И</text><text class="us" x="140.95" y="32.5">_</text><use href="#gc" x="40.6" y="41"/><text x="59.75" y="64">Т</text></g>
<g class="G" transform="translate(1173,0)"><use href="#grid"/><use href="#gc"/><text x="19.15" y="23">О</text><use href="#gc" x="81.2" y="41"/><text x="100.35" y="64">С</text></g>
<use href="#tk" x="1348.5"/><text class="tt" x="1354.5" y="26">й</text><text class="tb" x="1422" y="70.5">q</text>
<use href="#gR" x="1443.6"/><text class="s10" x="1448.1" y="14">Й</text><text class="s10 e" x="1477.2" y="31.5">Q</text><text class="s12 c" x="1503.1" y="23.5">%</text>
</g>

<g id="combo-R9" transform="translate(0,1078.9)">
<use href="#gR" x="808.2"/><text class="s10" x="812.5" y="14">Ш</text><text class="s10 e" x="841.6" y="31.5">I</text><text class="s12 c" x="867.7" y="23.5">*</text>
<use href="#tk" x="902.8"/><text class="tt" x="908.8" y="26">ш</text><text class="tb" x="976.3" y="70.5">i</text>
<g class="G" transform="translate(997.4,0)"><use href="#grid"/><use href="#gc" x="40.6"/><text x="59.75" y="23">Е</text><use href="#gc" x="121.8" y="41"/><text x="140.95" y="64">Р</text></g>
<g class="G" transform="translate(1173,0)"><use href="#grid"/><use href="#gc" x="81.2"/><text x="100.35" y="23">А</text><use href="#gc" y="41"/><text x="19.15" y="64">Н</text></g>
<use href="#tk" x="1348.5"/><text class="tt" x="1354.5" y="26">ж</text><text class="tb" x="1422" y="70.5">;</text>
<use href="#gR" x="1443.6"/><text class="s10" x="1448.1" y="14">Ж</text><text class="s10 e" x="1477.2" y="31.5">:</text><text class="s10" x="1488.2" y="13.5">?</text><text class="s12 e" x="1517.8" y="31.5">&amp;</text>
</g>

<g id="combo-R10" transform="translate(0,1173.45)">
<use href="#gR" x="808.2"/><text class="s10" x="812.5" y="14">Ц</text><text class="s10 e" x="841.6" y="31.5">W</text><text class="s12 c" x="867.7" y="23.5">)</text>
<use href="#tk" x="902.8"/><text class="tt" x="908.8" y="26">ц</text><text class="tb" x="976.3" y="70.5">w</text>
<g class="G" transform="translate(997.4,0)"><use href="#grid"/><use href="#gc" x="121.8"/><text x="140.95" y="23">И</text><text class="us" x="140.95" y="32.5">_</text><use href="#gc" x="81.2" y="41"/><text x="100.35" y="64">С</text></g>
<g class="G" transform="translate(1173,0)"><use href="#grid"/><use href="#gc"/><text x="19.15" y="23">О</text><use href="#gc" x="40.6" y="41"/><text x="59.75" y="64">Т</text></g>
<use href="#tk" x="1348.5"/><text class="tt" x="1354.5" y="26">ю</text><text class="tb" x="1422" y="70.5">.</text>
<use href="#gR" x="1443.6"/><text class="s10" x="1448.1" y="14">Ю</text><text class="s10 e" x="1477.2" y="31.5">&gt;</text><text class="s12 c" x="1503.1" y="23.5">(</text>
</g>

<g id="combo-R11" transform="translate(0,1268)">
<use href="#gR" x="808.2"/><text class="s10" x="812.5" y="14">Э</text><text class="s10 e" x="841.6" y="31.5">"</text><text class="s10" x="852.8" y="13.5">,</text><text class="s12 e" x="882.3" y="31.5">?</text>
<use href="#tk" x="902.8"/><text class="tt" x="908.8" y="26">э</text><text class="tb" x="976.3" y="70.5">'</text>
<g class="G" transform="translate(997.4,0)"><use href="#grid"/><use href="#gc" x="81.2"/><text x="100.35" y="23">А</text><use href="#gc" x="40.6" y="41"/><text x="59.75" y="64">Т</text></g>
<g class="G" transform="translate(1173,0)"><use href="#grid"/><use href="#gc" x="40.6"/><text x="59.75" y="23">Е</text><use href="#gc" x="81.2" y="41"/><text x="100.35" y="64">С</text></g>
<use href="#tk" x="1348.5"/><text class="tt" x="1354.5" y="26">щ</text><text class="tb" x="1422" y="70.5">o</text>
<use href="#gR" x="1443.6"/><text class="s10" x="1448.1" y="14">Щ</text><text class="s10 e" x="1477.2" y="31.5">O</text><text class="s10" x="1488.2" y="13.5">.</text><text class="s12 e" x="1517.8" y="31.5">/</text>
</g>

<g id="combo-R12" transform="translate(0,1362.55)">
<use href="#gR" x="808.2"/><text class="s10" x="812.5" y="14">Ъ</text><text class="s10 e" x="841.6" y="31.5">}</text><text class="s12 c" x="867.7" y="23.5">_</text>
<use href="#tk" x="902.8"/><text class="tt" x="908.8" y="26">ъ</text><text class="tb" x="976.3" y="70.5">]</text>
<g class="G" transform="translate(997.4,0)"><use href="#grid"/><use href="#gc" x="40.6"/><text x="59.75" y="23">Е</text><use href="#gc" y="41"/><text x="19.15" y="64">Н</text></g>
<g class="G" transform="translate(1173,0)"><use href="#grid"/><use href="#gc" x="81.2"/><text x="100.35" y="23">А</text><use href="#gc" x="121.8" y="41"/><text x="140.95" y="64">Р</text></g>
<use href="#tk" x="1348.5"/><text class="tt" x="1354.5" y="26">ф</text><text class="tb" x="1422" y="70.5">a</text>
<use href="#gR" x="1443.6"/><text class="s10" x="1448.1" y="14">Ф</text><text class="s10 e" x="1477.2" y="31.5">A</text><text class="s12 c" x="1503.1" y="23.5">-</text>
</g>

<g id="combo-R13" transform="translate(0,1457.1)">
<use href="#gR" x="808.2"/><text class="s10" x="812.5" y="14">/</text><text class="s10 e" x="841.6" y="31.5">|</text><text class="s12 c" x="867.7" y="23.5">+</text>
<use href="#tk" x="902.8"/><text class="tt" x="908.8" y="26">\</text><text class="tb" x="976.3" y="70.5">\</text>
<g class="G" transform="translate(997.4,0)"><use href="#grid"/><use href="#gc" x="40.6" y="41"/><text x="59.75" y="64">С</text><use href="#gc" x="81.2" y="41"/><text x="100.35" y="64">Т</text><use href="#gc" x="121.8" y="41"/><text x="140.95" y="64">Н</text></g>
<g class="G" transform="translate(1173,0)"><use href="#grid"/><use href="#gc" x="40.6"/><text x="59.75" y="23">А</text><use href="#gc" x="81.2"/><text x="100.35" y="23">Е</text><use href="#gc" x="121.8"/><text x="140.95" y="23">О</text><text class="us" x="140.95" y="32.5">_</text></g>
<use href="#tk" x="1348.5"/><text class="tt" x="1354.5" y="26">ё</text><text class="tb" x="1422" y="70.5">`</text>
<use href="#gR" x="1443.6"/><text class="s10" x="1448.1" y="14">Ё</text><text class="s10 e" x="1477.2" y="31.5">~</text><text class="s12 c" x="1503.1" y="23.5">=</text>
</g>

<g id="combo-R14" transform="translate(0,1551.65)">
<use href="#gR" x="808.2"/>
<use href="#tk" x="902.8"/><text class="tc" x="941.95" y="48">Esc</text>
<g class="G" transform="translate(997.4,0)"><use href="#grid"/><use href="#gc" x="81.2"/><text x="100.35" y="23">А</text><use href="#gc" x="81.2" y="41"/><text x="100.35" y="64">С</text></g>
<g class="G" transform="translate(1173,0)"><use href="#grid"/><use href="#gc" x="40.6"/><text x="59.75" y="23">Е</text><use href="#gc" x="40.6" y="41"/><text x="59.75" y="64">Т</text></g>
<use href="#tk" x="1348.5"/><text class="tc" x="1387.65" y="48">Del</text>
<use href="#gR" x="1443.6"/><text class="s11 c" x="1503.1" y="16">Ctrl</text><text class="s11 c" x="1503.1" y="28.5">Del</text>
</g>

<g id="combo-R15" transform="translate(0,1646.2)">
<use href="#gR" x="808.2"/><text class="s11 c" x="827.15" y="16">Shift</text><text class="s11 c" x="827.15" y="28.5">Enter</text>
<use href="#tk" x="902.8"/><text class="tc" x="941.95" y="48">Enter</text>
<g class="G" transform="translate(997.4,0)"><use href="#grid"/><use href="#gc" x="121.8"/><text x="140.95" y="23">И</text><text class="us" x="140.95" y="32.5">_</text><use href="#gc" x="121.8" y="41"/><text x="140.95" y="64">Р</text></g>
<g class="G" transform="translate(1173,0)"><use href="#grid"/><use href="#gc"/><text x="19.15" y="23">О</text><use href="#gc" y="41"/><text x="19.15" y="64">Н</text></g>
<use href="#tk" x="1348.5"/><text class="tc" x="1387.65" y="48">Tab</text>
<use href="#gR" x="1443.6"/><text class="s11 c" x="1462.55" y="16">Alt</text><text class="s11 c" x="1462.55" y="28.5">Tab</text><text class="s11 c" x="1503.1" y="16">Ctrl</text><text class="s11 c" x="1503.1" y="28.5">Tab</text>
</g>
</svg>
